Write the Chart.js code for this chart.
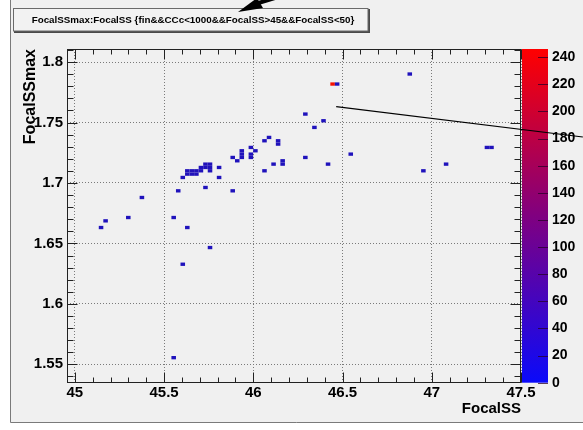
<!DOCTYPE html>
<html>
<head>
<meta charset="utf-8">
<script src="https://cdn.jsdelivr.net/npm/chart.js@4/dist/chart.umd.min.js"></script>
<style>
html,body{margin:0;padding:0;background:#ffffff;}
canvas{display:block;}
</style>
</head>
<body>
<canvas id="c" width="583" height="430"></canvas>
<script>
// ---------- text ----------
const titleText = "FocalSSmax:FocalSS {fin&&CCc<1000&&FocalSS>45&&FocalSS<50}";
const xTitle = "FocalSS";
const yTitle = "FocalSSmax";

// ---------- axes ----------
const xRange = [44.956, 47.5];
const yRange = [1.5348, 1.8108];
const nBinsX = 100;
const nBinsY = 100;
const xTicks = [45, 45.5, 46, 46.5, 47, 47.5];
const yTicks = [1.55, 1.6, 1.65, 1.7, 1.75, 1.8];
const zTicks = [0, 20, 40, 60, 80, 100, 120, 140, 160, 180, 200, 220, 240];

// ---------- filled cells (bin centres) ----------
const cellX = [45.147, 45.172, 45.299, 45.554, 45.630, 45.757, 45.605, 45.554, 45.376, 45.579,
               45.605, 45.630, 45.656, 45.681, 45.630, 45.656, 45.681, 45.706, 45.706, 45.732,
               45.732, 45.757, 45.757, 45.757, 45.732, 45.808, 45.808, 45.885, 45.885, 45.910,
               45.935, 45.935, 45.935, 45.986, 45.986, 45.986, 46.012, 46.063, 46.088, 46.139,
               46.139, 46.063, 46.114, 46.164, 46.164, 46.444, 46.470, 46.292, 46.393, 46.342,
               46.546, 46.292, 46.419, 46.953, 47.080, 47.309, 47.335, 46.877];
const cellY = [1.6631, 1.6687, 1.6714, 1.6714, 1.6631, 1.6466, 1.6328, 1.5555, 1.6880, 1.6935,
               1.7045, 1.7073, 1.7073, 1.7073, 1.7101, 1.7101, 1.7101, 1.7101, 1.7128, 1.7156,
               1.7128, 1.7156, 1.7128, 1.7101, 1.6963, 1.7128, 1.7045, 1.7211, 1.6935, 1.7183,
               1.7266, 1.7239, 1.7211, 1.7294, 1.7239, 1.7211, 1.7266, 1.7349, 1.7377, 1.7349,
               1.7321, 1.7101, 1.7156, 1.7183, 1.7156, 1.7818, 1.7818, 1.7570, 1.7515, 1.7459,
               1.7239, 1.7211, 1.7156, 1.7101, 1.7156, 1.7294, 1.7294, 1.7901];
const cellCount = [1, 1, 1, 1, 1, 1, 1, 1, 1, 1,
                   2, 3, 4, 3, 3, 5, 4, 2, 2, 3,
                   2, 3, 3, 2, 1, 1, 1, 1, 1, 1,
                   2, 2, 2, 1, 2, 2, 1, 1, 1, 2,
                   2, 1, 1, 1, 1, 246, 2, 1, 1, 1,
                   1, 1, 1, 1, 1, 2, 2, 1];

const FONT = "'Liberation Sans', Arial, Helvetica, sans-serif";
const zMax = Math.max(...cellCount);

function palette(v) {
  const t = Math.max(0, Math.min(1, v / zMax));
  return [Math.round(255 * t), 0, Math.round(255 * (1 - t))];
}
function cellColor(v) {
  const c = palette(v);
  return `rgb(${Math.round(30 + 0.85 * c[0])},18,${Math.round(0.74 * c[2])})`;
}

const rootPlugin = {
  id: 'rootLook',
  beforeDraw(chart) {
    const ctx = chart.ctx;
    ctx.save();
    ctx.fillStyle = '#ffffff';
    ctx.fillRect(0, 0, 583, 430);
    ctx.fillStyle = '#f0f0f0';
    ctx.fillRect(10, 0, 573, 422);
    ctx.strokeStyle = '#7a7a7a';
    ctx.lineWidth = 1;
    ctx.beginPath();
    ctx.moveTo(10.5, 0); ctx.lineTo(10.5, 422.5); ctx.lineTo(583, 422.5);
    ctx.stroke();
    ctx.restore();
  },
  afterDatasetsDraw(chart) {
    const ctx = chart.ctx;
    const xs = chart.scales.x, ys = chart.scales.y, zs = chart.scales.zbar;
    const ca = chart.chartArea;
    const bw = (xRange[1] - xRange[0]) / nBinsX;
    const bh = (yRange[1] - yRange[0]) / nBinsY;
    ctx.save();
    // cells
    const pts = chart.data.datasets[0].data;
    pts.forEach(p => {
      const i = Math.floor((p.x - xRange[0]) / bw);
      const j = Math.floor((p.y - yRange[0]) / bh);
      const x0 = xs.getPixelForValue(xRange[0] + i * bw);
      const x1 = xs.getPixelForValue(xRange[0] + (i + 1) * bw);
      const y0 = ys.getPixelForValue(yRange[0] + (j + 1) * bh);
      const y1 = ys.getPixelForValue(yRange[0] + j * bh);
      ctx.fillStyle = cellColor(p.v);
      ctx.fillRect(x0, y0, x1 - x0, y1 - y0);
    });
    // frame
    ctx.strokeStyle = '#222';
    ctx.lineWidth = 1;
    const L = Math.round(ca.left) + 0.5, R = Math.round(ca.right) - 0.5;
    const T = Math.round(ca.top) + 0.5, B = Math.round(ca.bottom) - 0.5;
    ctx.strokeRect(L, T, R - L, B - T);
    // ticks on all four sides
    ctx.beginPath();
    for (let k = 0; k <= 25; k++) {
      const v = 45 + k * 0.1;
      const major = k % 5 === 0;
      const px = Math.round(xs.getPixelForValue(v)) + 0.5;
      const len = major ? 10 : 5;
      ctx.moveTo(px, B); ctx.lineTo(px, B - len);
      ctx.moveTo(px, T); ctx.lineTo(px, T + len);
    }
    for (let k = 0; k <= 27; k++) {
      const v = 1.54 + k * 0.01;
      if (v < yRange[0] || v > yRange[1]) continue;
      const major = (k - 1) % 5 === 0;
      const py = Math.round(ys.getPixelForValue(v)) + 0.5;
      const len = major ? 10 : 6;
      ctx.moveTo(L, py); ctx.lineTo(L + len, py);
      ctx.moveTo(R, py); ctx.lineTo(R - len, py);
    }
    ctx.stroke();
    // colour bar
    const cbL = ca.right + 1, cbR = ca.right + 27;
    const zTop = zs.getPixelForValue(zMax), zBot = zs.getPixelForValue(0);
    const g = ctx.createLinearGradient(0, zBot, 0, zTop);
    g.addColorStop(0, 'rgb(10,10,250)');
    g.addColorStop(0.5, 'rgb(128,0,128)');
    g.addColorStop(1, 'rgb(255,0,0)');
    ctx.fillStyle = g;
    ctx.fillRect(cbL, zTop, cbR - cbL, zBot - zTop);
    ctx.strokeStyle = 'rgba(40,0,40,0.75)';
    ctx.beginPath();
    zTicks.forEach(v => {
      const py = Math.round(zs.getPixelForValue(v)) + 0.5;
      ctx.moveTo(cbR - 10, py); ctx.lineTo(cbR, py);
    });
    ctx.stroke();
    ctx.restore();
  },
  afterDraw(chart) {
    const ctx = chart.ctx;
    const xs = chart.scales.x, ys = chart.scales.y;
    ctx.save();
    // pointer line
    ctx.strokeStyle = '#000';
    ctx.lineWidth = 1.2;
    ctx.beginPath();
    ctx.moveTo(xs.getPixelForValue(46.4645), ys.getPixelForValue(1.7632));
    ctx.lineTo(xs.getPixelForValue(47.8466), ys.getPixelForValue(1.7380));
    ctx.stroke();
    // title box with shadow
    ctx.fillStyle = '#f2f2f2';
    ctx.fillRect(13, 8, 355, 23);
    ctx.fillStyle = '#4a4a4a';
    ctx.fillRect(14, 31, 356, 2);
    ctx.fillRect(368, 9, 2, 24);
    ctx.strokeStyle = '#6a6a6a';
    ctx.lineWidth = 1;
    ctx.strokeRect(13.5, 8.5, 354.5, 22.5);
    ctx.fillStyle = '#000';
    ctx.font = 'bold 9.8px ' + FONT;
    ctx.textBaseline = 'middle';
    ctx.textAlign = 'left';
    ctx.fillText(titleText, 31.7, 20);
    // arrow at the top
    ctx.fillStyle = '#000';
    ctx.strokeStyle = '#000';
    ctx.lineWidth = 4;
    ctx.beginPath();
    ctx.moveTo(285, -5); ctx.lineTo(255, 4);
    ctx.stroke();
    ctx.beginPath();
    ctx.moveTo(238, 12); ctx.lineTo(257, -2); ctx.lineTo(263, 8);
    ctx.closePath();
    ctx.fill();
    ctx.restore();
  }
};

const tickFont = {family: FONT, weight: 'bold', size: 15};

new Chart(document.getElementById('c'), {
  type: 'scatter',
  data: {
    datasets: [{
      data: cellX.map((x, i) => ({x: x, y: cellY[i], v: cellCount[i]})),
      pointRadius: 0,
      pointHoverRadius: 0
    }]
  },
  options: {
    responsive: false,
    devicePixelRatio: 1,
    animation: false,
    events: [],
    layout: {padding: {top: 49, left: 0, right: 0, bottom: 0}},
    plugins: {legend: {display: false}, tooltip: {enabled: false}},
    scales: {
      x: {
        type: 'linear', min: xRange[0], max: xRange[1],
        afterBuildTicks: s => { s.ticks = xTicks.map(v => ({value: v})); },
        afterFit: s => { s.height = 47.3; },
        ticks: {callback: v => String(v), font: tickFont, color: '#000', padding: 1, maxRotation: 0, autoSkip: false},
        grid: {color: '#7a7a7a', drawTicks: false, lineWidth: 1},
        border: {display: false, dash: [1, 2]},
        title: {display: true, text: xTitle, align: 'end', font: tickFont, color: '#000', padding: {top: 0, bottom: 12}}
      },
      y: {
        type: 'linear', min: yRange[0], max: yRange[1],
        afterBuildTicks: s => { s.ticks = yTicks.map(v => ({value: v})); },
        afterFit: s => { s.width = 67; },
        ticks: {callback: v => String(v), font: tickFont, color: '#000', padding: 4, autoSkip: false},
        grid: {color: '#7a7a7a', drawTicks: false, lineWidth: 1},
        border: {display: false, dash: [1, 2]},
        title: {display: true, text: yTitle, align: 'end', font: {family: FONT, weight: 'bold', size: 16}, color: '#000', padding: {top: 21, bottom: 0}}
      },
      zbar: {
        type: 'linear', axis: 'y', position: 'right', min: 0, max: zMax,
        afterBuildTicks: s => { s.ticks = zTicks.map(v => ({value: v})); },
        afterFit: s => { s.width = 62; },
        ticks: {callback: v => String(v), font: {family: FONT, weight: 'bold', size: 14}, color: '#000', padding: 31, autoSkip: false},
        grid: {drawOnChartArea: false, drawTicks: false},
        border: {display: false}
      }
    }
  },
  plugins: [rootPlugin]
});
</script>
</body>
</html>
